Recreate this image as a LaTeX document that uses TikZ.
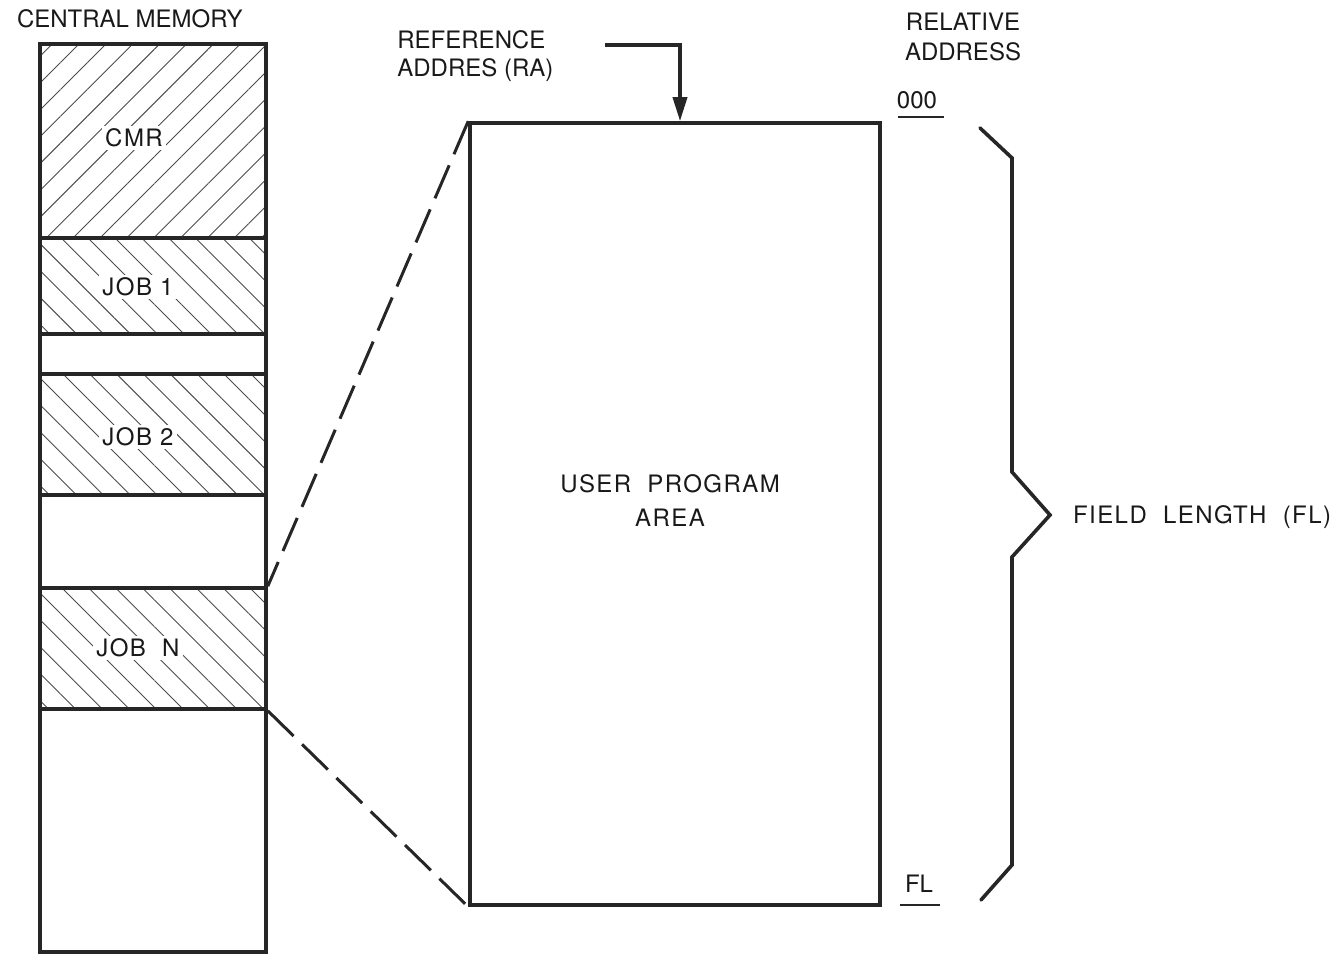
\documentclass[tikz,border=0pt]{standalone}
\usepackage{fontspec}
\setmainfont{TeX Gyre Heros}
\newfontfamily\widefont[LetterSpace=6]{TeX Gyre Heros}
\usetikzlibrary{arrows.meta,patterns.meta}

\begin{document}
\begin{tikzpicture}[x=0.5pt, y=-0.5pt,
  font=\fontsize{12}{14}\selectfont,
  text=black!90,
  ink/.style={draw=black!85, line width=1.8pt},
  block/.style={ink, rectangle, inner sep=0pt, minimum width=113pt},
  upward/.style={pattern={Lines[angle=45,distance=9.5pt,line width=0.45pt]}, pattern color=black!70},
  downward/.style={pattern={Lines[angle=-45,distance=9.5pt,line width=0.45pt]}, pattern color=black!70},
  tag/.style={fill=white, inner sep=1.5pt, font=\fontsize{12}{14}\widefont},
  zoomline/.style={draw=black!85, line width=1.5pt, dash pattern=on 18pt off 6pt},
  brace/.style={draw=black!85, line width=1.8pt, line join=miter, line cap=round}
]
\useasboundingbox (0,0) rectangle (1332,956);

% central memory column
\node[anchor=west] (cmtitle) at (10,19) {CENTRAL MEMORY};
\node[block, upward, minimum height=97pt] (cmr) at (153,141) {};
\node[block, downward, minimum height=48pt] (job1) at (153,286) {};
\node[block, minimum height=20pt] (free1) at (153,354) {};
\node[block, downward, minimum height=60.5pt] (job2) at (153,434.5) {};
\node[block, minimum height=46.5pt] (free2) at (153,541.5) {};
\node[block, downward, minimum height=60.5pt] (jobn) at (153,648.5) {};
\node[block, minimum height=121.5pt] (free3) at (153,830.5) {};

\node[tag] (cmr-lbl) at (134,138) {CMR};
\node[tag] (job1-lbl) at (138,287) {JOB 1};
\node[tag] (job2-lbl) at (138,437) {JOB 2};
\node[tag] (jobn-lbl) at (138,648) {JOB\ \ N};

% user program area
\node[ink, rectangle, minimum width=205pt, minimum height=391pt] (upa) at (675,514) {};
\node[align=center, font=\fontsize{12}{17}\widefont] (upa-lbl) at (670,501) {USER\ \ PROGRAM\\AREA};

\draw[zoomline] (upa.north west) -- (jobn.north east);
\draw[zoomline] (jobn.south east) -- (upa.south west);

% reference address
\node[anchor=north west, align=left, inner sep=0pt] (ralbl) at (397,30) {REFERENCE\\ADDRES (RA)};
\coordinate (rastart) at (605,45);
\draw[ink, -{Triangle[length=12pt,width=7pt]}] (rastart) -| ([xshift=2.5pt]upa.north);

% relative addresses
\node[align=center, font=\fontsize{12}{15}\selectfont] (reladdr) at (963,37) {RELATIVE\\ADDRESS};
\node (zero) at (917,100) {000};
\node (fl) at (919,884) {FL};
\draw[line width=1.1pt, draw=black!85] (898,117) -- (944,117);
\draw[line width=1.1pt, draw=black!85] (900,905) -- (940,905);

% field length brace
\draw[brace] (980,128) -- (1012,158) -- (1012,472) -- (1050,515)
  -- (1012,557) -- (1012,865) -- (981,900);
\node[anchor=west, font=\fontsize{12}{14}\widefont] (fieldlen) at (1066,517) {FIELD\ \ LENGTH\ \ (FL)};
\end{tikzpicture}
\end{document}
